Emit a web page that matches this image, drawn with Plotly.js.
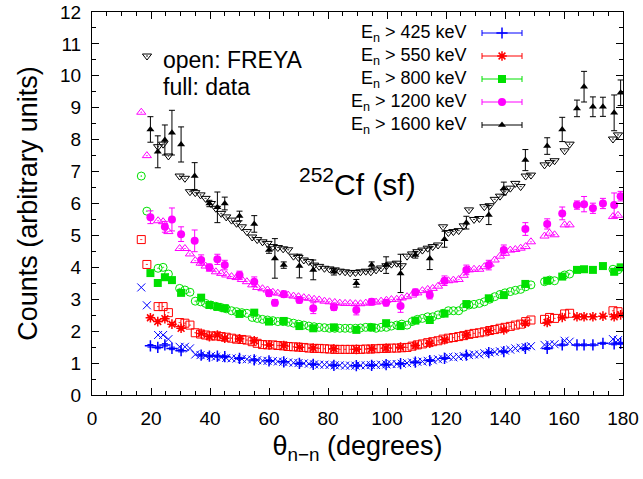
<!DOCTYPE html>
<html><head><meta charset="utf-8">
<script src="https://cdn.plot.ly/plotly-3.0.1.min.js"></script>
<style>html,body{margin:0;padding:0;background:#fff}</style>
</head><body><div id="chart" style="width:643px;height:479px"></div>
<script>
// FREYA calculation angles (degrees)
const freyaAngles = [16.7,18.6,22.4,24.1,25.9,29.7,31.5,33.2,35.0,36.8,38.5,40.3,42.0,43.8,45.5,47.3,49.0,50.8,52.5,54.3,56.0,57.8,59.5,61.3,63.0,64.8,66.5,68.3,70.0,71.8,73.5,75.3,77.0,78.8,80.5,82.3,84.0,85.8,87.5,89.3,91.0,92.8,94.5,96.3,98.0,99.8,101.5,103.3,105.0,106.8,108.5,110.3,112.0,113.8,115.5,117.3,119.0,120.8,122.5,124.3,126.0,127.8,129.5,131.3,133.0,134.8,136.5,138.3,140.0,141.8,143.5,145.3,147.0,148.8,153.4,155.1,156.8,160.2,161.9,176.6,178.3];
const freya425 = [3.37,2.81,1.88,1.88,1.75,1.51,1.51,1.46,1.27,1.25,1.23,1.22,1.20,1.18,1.16,1.15,1.14,1.13,1.12,1.11,1.09,1.07,1.07,1.06,1.05,1.04,1.02,1.01,1.00,0.99,0.98,0.96,0.95,0.95,0.94,0.93,0.93,0.92,0.92,0.92,0.93,0.93,0.94,0.94,0.95,0.96,0.97,0.97,0.98,1.00,1.02,1.04,1.05,1.07,1.09,1.12,1.14,1.20,1.18,1.20,1.22,1.25,1.27,1.27,1.31,1.33,1.35,1.37,1.39,1.42,1.46,1.48,1.50,1.53,1.57,1.59,1.59,1.70,1.67,1.75,1.72];
const freya550 = [4.87,4.09,2.77,2.77,2.58,2.27,2.25,2.19,1.95,1.91,1.88,1.85,1.85,1.83,1.81,1.78,1.75,1.74,1.72,1.67,1.62,1.58,1.57,1.57,1.55,1.54,1.52,1.51,1.50,1.49,1.47,1.46,1.46,1.45,1.44,1.43,1.43,1.43,1.43,1.43,1.43,1.44,1.44,1.45,1.46,1.46,1.47,1.47,1.48,1.49,1.53,1.57,1.60,1.64,1.67,1.70,1.75,1.78,1.80,1.83,1.86,1.90,1.93,1.95,1.98,2.02,2.05,2.09,2.12,2.15,2.19,2.22,2.30,2.35,2.37,2.43,2.40,2.54,2.56,2.64,2.61];
const freya800 = [6.86,5.76,3.97,4.00,3.79,3.34,3.29,3.22,2.94,2.92,2.87,2.82,2.78,2.74,2.70,2.64,2.61,2.58,2.56,2.43,2.40,2.37,2.35,2.33,2.30,2.30,2.28,2.25,2.22,2.19,2.16,2.14,2.12,2.11,2.09,2.09,2.09,2.09,2.09,2.09,2.10,2.12,2.12,2.09,2.12,2.12,2.16,2.19,2.22,2.19,2.30,2.37,2.40,2.45,2.45,2.51,2.56,2.64,2.64,2.64,2.75,2.82,2.84,2.87,2.92,3.00,3.08,3.15,3.20,3.24,3.28,3.31,3.39,3.45,3.55,3.60,3.58,3.76,3.79,3.94,3.92];
const freya1200 = [8.86,7.50,5.46,5.43,5.12,4.59,4.59,4.42,4.21,4.13,4.04,3.94,3.86,3.81,3.76,3.71,3.68,3.62,3.55,3.45,3.37,3.33,3.29,3.22,3.19,3.16,3.13,3.10,3.08,3.05,3.03,3.00,2.98,2.94,2.92,2.90,2.88,2.87,2.87,2.86,2.86,2.88,2.89,2.91,2.94,2.97,2.99,3.00,3.04,3.08,3.13,3.20,3.27,3.31,3.34,3.41,3.55,3.58,3.60,3.62,3.75,3.92,3.94,3.94,4.02,4.10,4.23,4.35,4.44,4.54,4.56,4.60,4.65,4.80,4.98,5.07,5.02,5.33,5.33,5.59,5.63];
const freya1600 = [null,null,7.78,7.86,7.49,6.86,6.79,6.37,6.34,6.27,6.16,6.00,5.85,5.69,5.58,5.48,5.38,5.27,5.12,4.95,4.87,4.80,4.75,4.65,4.62,4.58,4.55,4.35,4.31,4.23,4.18,4.07,4.03,3.97,3.95,3.92,3.88,3.86,3.83,3.84,3.86,3.88,3.86,3.92,3.98,4.05,4.10,4.13,4.05,4.35,4.42,4.49,4.54,4.60,4.65,4.70,5.27,5.09,5.12,5.15,5.30,5.80,5.50,5.53,5.90,5.93,6.13,6.23,6.37,6.48,6.63,6.53,6.86,6.89,7.21,7.28,7.34,7.65,7.86,8.02,8.15];

// Measured data angles (degrees)
const dataAngles = [19.8,22.3,24.7,27.1,30.2,34.8,37.0,39.8,42.5,45.0,50.0,55.0,60.0,62.0,65.0,70.3,75.0,82.0,89.6,94.8,99.7,104.6,109.6,114.5,119.5,126.9,134.5,139.6,146.9,154.3,159.4,164.4,166.8,169.8,173.2,177.0,179.2];
const data425 = [1.54,1.49,1.57,1.46,1.39,null,1.25,1.22,1.22,1.20,1.15,1.10,1.07,null,1.04,0.99,0.96,0.93,0.92,0.93,0.95,0.98,1.03,1.08,1.15,1.25,1.33,1.36,1.46,1.46,1.57,1.57,1.57,1.57,1.62,1.60,1.62];
const err425 = [0.04,0.04,0.04,0.04,0.04,0,0.03,0.03,0.03,0.03,0.03,0.03,0.03,0,0.03,0.03,0.03,0.03,0.03,0.03,0.03,0.03,0.03,0.03,0.03,0.03,0.03,0.03,0.03,0.03,0.03,0.03,0.03,0.03,0.03,0.03,0.03];
const data550 = [2.42,2.30,2.39,2.22,2.09,null,1.93,1.83,1.88,1.78,1.76,1.70,1.57,null,1.55,1.50,1.47,1.45,1.43,1.45,1.47,1.50,1.55,1.62,1.73,1.88,2.01,2.04,2.25,2.27,2.43,2.45,2.45,2.45,2.47,2.45,2.51];
const err550 = [0.05,0.05,0.05,0.05,0.05,0,0.04,0.04,0.04,0.04,0.04,0.04,0.04,0,0.04,0.04,0.04,0.04,0.04,0.04,0.04,0.04,0.04,0.04,0.04,0.04,0.04,0.04,0.04,0.04,0.04,0.04,0.04,0.04,0.04,0.04,0.04];
const data800 = [3.82,3.51,3.69,3.60,3.20,null,3.05,2.82,2.76,2.72,2.54,2.58,2.30,null,2.32,2.16,2.09,2.12,2.04,2.12,2.25,2.16,2.33,2.35,2.55,2.85,3.03,3.13,3.48,3.58,3.71,3.92,3.94,3.92,4.04,3.86,4.00];
const err800 = [0.06,0.06,0.06,0.06,0.06,0,0.05,0.05,0.05,0.05,0.05,0.05,0.05,0,0.05,0.05,0.05,0.05,0.05,0.05,0.05,0.05,0.05,0.05,0.05,0.05,0.05,0.05,0.05,0.05,0.05,0.05,0.05,0.05,0.05,0.05,0.05];
const data1200 = [5.57,null,5.27,5.50,5.04,4.83,4.23,4.00,4.25,4.07,3.76,3.55,3.19,2.89,3.16,2.98,2.72,2.75,2.66,2.92,2.89,2.79,3.22,3.13,3.58,3.92,4.07,4.54,5.20,5.36,5.69,5.95,5.98,5.85,6.00,5.95,6.23];
const err1200 = [0.20,0,0.17,0.36,0.23,0.34,0.16,0.10,0.16,0.15,0.12,0.15,0.10,0.10,0.10,0.10,0.17,0.10,0.15,0.10,0.10,0.20,0.10,0.12,0.15,0.15,0.15,0.16,0.20,0.16,0.20,0.13,0.24,0.16,0.16,0.38,0.15];
const data1600 = [8.32,7.62,7.99,8.22,7.85,6.86,null,6.00,5.88,6.00,5.61,5.36,4.54,4.28,4.07,4.04,3.92,3.86,3.50,4.07,4.07,3.81,4.39,4.28,4.88,5.40,5.64,6.47,7.36,7.80,8.32,8.98,9.66,9.03,9.03,8.84,9.47];
const err1600 = [0.40,0.50,0.47,0.70,0.55,0.42,0,0.10,0.48,0.20,0.15,0.26,0.10,0.62,0.10,0.37,0.31,0.10,0.12,0.10,0.26,0.60,0.10,0.35,0.25,0.20,0.30,0.20,0.33,0.26,0.38,0.26,0.48,0.31,0.30,0.56,0.40];

const labels = ['E<sub>n</sub> > 425 keV','E<sub>n</sub> > 550 keV','E<sub>n</sub> > 800 keV','E<sub>n</sub> > 1200 keV','E<sub>n</sub> > 1600 keV'];
const colors = ['#0000ff','#ff0000','#00e000','#ff00ff','#000000'];
const dataSymbols = ['cross-thin-open','asterisk-open','square','circle','triangle-up'];
const dataSizes = [8,8,8,8,7];
const freyaSymbols = ['x-thin-open','square-open-dot','circle-open-dot','triangle-up-open-dot','triangle-down-open-dot'];
const freyaSets = [freya425,freya550,freya800,freya1200,freya1600];
const dataSets = [data425,data550,data800,data1200,data1600];
const errSets = [err425,err550,err800,err1200,err1600];

const FONT = 'Liberation Sans, Arial, Helvetica, sans-serif';
const traces = [];
for (let i = 0; i < 5; i++) {
  traces.push({
    type:'scatter', mode:'markers', x:freyaAngles, y:freyaSets[i], showlegend:false,
    marker:{symbol:freyaSymbols[i], size:8, color:colors[i], line:{color:colors[i], width:1}},
    cliponaxis:true
  });
  traces.push({
    type:'scatter', mode:'markers', x:dataAngles, y:dataSets[i], showlegend:false,
    marker:{symbol:dataSymbols[i], size:dataSizes[i], color:colors[i], line:{color:colors[i], width:(i<2?1.5:0)}},
    error_y:{type:'data', array:errSets[i], visible:true, color:colors[i], thickness:1, width:3}
  });
}
// legend samples drawn on an overlay pixel-like axis
const legRowY = [33, 56, 79, 102, 125];
for (let i = 0; i < 5; i++) {
  traces.push({
    type:'scatter', mode:'markers', xaxis:'x2', yaxis:'y2', x:[502], y:[legRowY[i]], showlegend:false,
    marker:{symbol:dataSymbols[i], size:dataSizes[i], color:colors[i], line:{color:colors[i], width:(i<2?1.5:0)}},
    error_x:{type:'data', array:[20], visible:true, color:colors[i], thickness:1, width:3}
  });
}
traces.push({
  type:'scatter', mode:'markers', xaxis:'x2', yaxis:'y2', x:[147], y:[56], showlegend:false,
  marker:{symbol:'triangle-down-open-dot', size:8, color:'#000', line:{color:'#000', width:1}}
});

const annotations = [];
for (let i = 0; i < 5; i++) {
  annotations.push({xref:'x2', yref:'y2', x:469, y:legRowY[i], text:labels[i], showarrow:false,
    xanchor:'right', yanchor:'middle', font:{family:FONT, size:18, color:'#000'}});
}
annotations.push({xref:'x2', yref:'y2', x:162, y:60, text:'open: FREYA', showarrow:false, xanchor:'left', yanchor:'middle', borderpad:0, font:{family:FONT, size:23, color:'#000'}});
annotations.push({xref:'x2', yref:'y2', x:162, y:87, text:'full: data', showarrow:false, xanchor:'left', yanchor:'middle', borderpad:0, font:{family:FONT, size:23, color:'#000'}});
annotations.push({xref:'x2', yref:'y2', x:357, y:182, text:'<sup>252</sup>Cf (sf)', showarrow:false, xanchor:'center', yanchor:'middle', font:{family:FONT, size:30, color:'#000'}});

const axisCommon = {showline:true, linecolor:'#000', linewidth:1, mirror:'ticks', ticks:'inside', ticklen:7, tickcolor:'#000', tickwidth:1,
  showgrid:false, zeroline:false, tickfont:{family:FONT, size:19, color:'#000'}};

const layout = {
  width:643, height:479, margin:{l:92, r:20, t:12, b:84},
  paper_bgcolor:'#fff', plot_bgcolor:'#fff', showlegend:false,
  font:{family:FONT, color:'#000'},
  xaxis:Object.assign({}, axisCommon, {range:[0,180], tickmode:'linear', tick0:0, dtick:20,
    minor:{ticks:'inside', dtick:5, ticklen:4, tickcolor:'#000', showgrid:false},
    ticklabelstandoff:6,
    title:{text:'θ<sub>n−n</sub> (degrees)', font:{family:FONT, size:27, color:'#000'}, standoff:8}}),
  yaxis:Object.assign({}, axisCommon, {range:[0,12], tickmode:'linear', tick0:0, dtick:1,
    minor:{ticks:'inside', dtick:0.5, ticklen:4, tickcolor:'#000', showgrid:false},
    ticklabelstandoff:6,
    title:{text:'Counts (arbitrary units)', font:{family:FONT, size:27, color:'#000'}, standoff:14}}),
  xaxis2:{overlaying:'x', range:[92,623], visible:false, fixedrange:true},
  yaxis2:{overlaying:'y', range:[395,12], visible:false, fixedrange:true},
  annotations:annotations
};
Plotly.newPlot('chart', traces, layout, {displayModeBar:false, staticPlot:true});
</script></body></html>
